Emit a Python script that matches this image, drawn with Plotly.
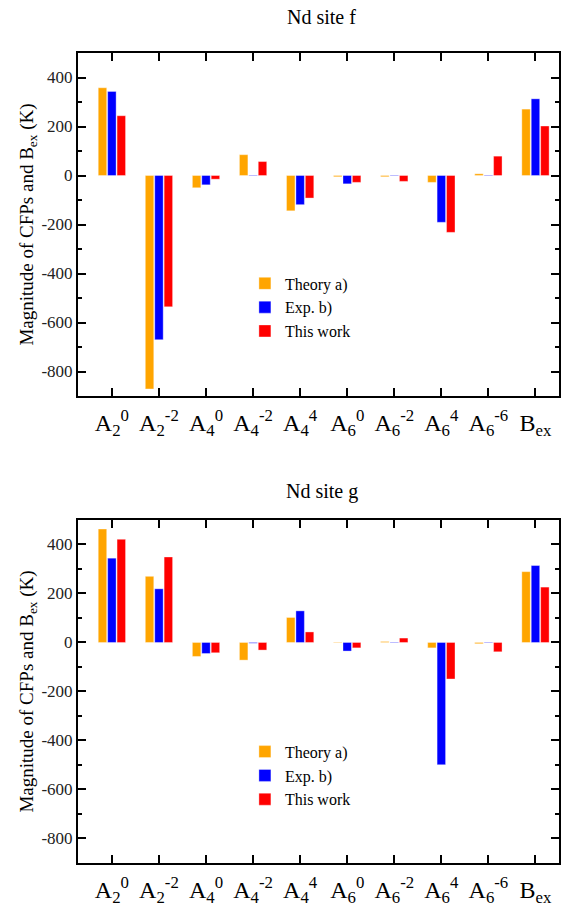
import plotly.graph_objects as go

categories = ["A<sub>2</sub><sup>0</sup>", "A<sub>2</sub><sup>-2</sup>", "A<sub>4</sub><sup>0</sup>",
              "A<sub>4</sub><sup>-2</sup>", "A<sub>4</sub><sup>4</sup>", "A<sub>6</sub><sup>0</sup>",
              "A<sub>6</sub><sup>-2</sup>", "A<sub>6</sub><sup>4</sup>", "A<sub>6</sub><sup>-6</sup>",
              "B<sub>ex</sub>"]
series_names = ["Theory a)", "Exp. b)", "This work"]
colors = ["#FFA500", "#0000FF", "#FF0000"]

# Nd site f
f_theory = [358, -871, -50, 85, -144, -5, -5, -28, 7, 271]
f_exp = [343, -670, -38, -2, -119, -34, -2, -191, -2, 313]
f_this = [244, -536, -15, 57, -92, -28, -24, -232, 79, 202]

# Nd site g
g_theory = [463, 270, -57, -72, 102, -2, 4, -22, -5, 289]
g_exp = [344, 219, -45, -3, 129, -35, -2, -499, 2, 314]
g_this = [421, 349, -42, -31, 43, -22, 18, -149, -38, 226]

titles = ["Nd site f", "Nd site g"]
y_ticks = [-800, -600, -400, -200, 0, 200, 400]

FONT = "'Liberation Serif', 'Times New Roman', Times, 'DejaVu Serif', serif"
fig = go.Figure()

for s, (vals, xa, ya, lg) in enumerate([
        ((f_theory, f_exp, f_this), "x", "y", "legend"),
        ((g_theory, g_exp, g_this), "x2", "y2", "legend2")]):
    for name, v, c in zip(series_names, vals, colors):
        fig.add_trace(go.Bar(
            x=categories, y=v, name=name, xaxis=xa, yaxis=ya, legend=lg,
            marker=dict(color=c, line=dict(color="rgba(255,255,255,0.6)", width=0.6)),
        ))

top_dom = [0.5765, 1.0]
bot_dom = [0.0, 0.4235]

def xaxis_cfg(anchor):
    return dict(
        anchor=anchor, domain=[0, 1], type="category",
        categoryorder="array", categoryarray=categories,
        range=[-0.72, 9.5], automargin=False,
        showline=True, linecolor="black", linewidth=2, mirror="ticks",
        ticks="inside", ticklen=8, tickwidth=2, tickcolor="black",
        showgrid=False, zeroline=False, ticklabelstandoff=4,
        tickfont=dict(family=FONT, size=24, color="black"),
    )

def yaxis_cfg(anchor, dom):
    return dict(
        anchor=anchor, domain=dom, range=[-900, 500], automargin=False,
        tickvals=y_ticks, ticktext=[str(t) for t in y_ticks],
        showline=True, linecolor="black", linewidth=2, mirror="ticks",
        ticks="inside", ticklen=8, tickwidth=2, tickcolor="black",
        minor=dict(dtick=100, ticks="inside", ticklen=4, tickwidth=1.5, tickcolor="black"),
        showgrid=False, zeroline=False,
        tickfont=dict(family=FONT, size=17, color="#222222"),
        title=dict(text="Magnitude of CFPs and B<sub>ex</sub> (K)",
                   font=dict(family=FONT, size=19, color="black"), standoff=3),
    )

legend_common = dict(
    xanchor="left", yanchor="top", bgcolor="rgba(0,0,0,0)",
    font=dict(family=FONT, size=16, color="black"),
    itemwidth=30, tracegroupgap=0,
)

fig.update_layout(
    width=568, height=904,
    margin=dict(l=78, r=9, t=53, b=41, autoexpand=False),
    paper_bgcolor="white", plot_bgcolor="white",
    barmode="group", bargap=0.4, bargroupgap=0.1,
    xaxis=xaxis_cfg("y"), yaxis=yaxis_cfg("x", top_dom),
    xaxis2=xaxis_cfg("y2"), yaxis2=yaxis_cfg("x2", bot_dom),
    legend=dict(x=0.347, y=0.7365, **legend_common),
    legend2=dict(x=0.347, y=0.1584, **legend_common),
    annotations=[
        dict(text=titles[0], x=0.507, y=1.0444, xref="paper", yref="paper",
             xanchor="center", yanchor="middle",
             showarrow=False, font=dict(family=FONT, size=20, color="black")),
        dict(text=titles[1], x=0.507, y=0.459, xref="paper", yref="paper",
             xanchor="center", yanchor="middle",
             showarrow=False, font=dict(family=FONT, size=20, color="black")),
    ],
    showlegend=True,
)

fig.write_html(
    "out.html",
    config={"displayModeBar": False},
    post_script="document.body.style.margin='0';document.body.style.overflow='hidden';",
)
